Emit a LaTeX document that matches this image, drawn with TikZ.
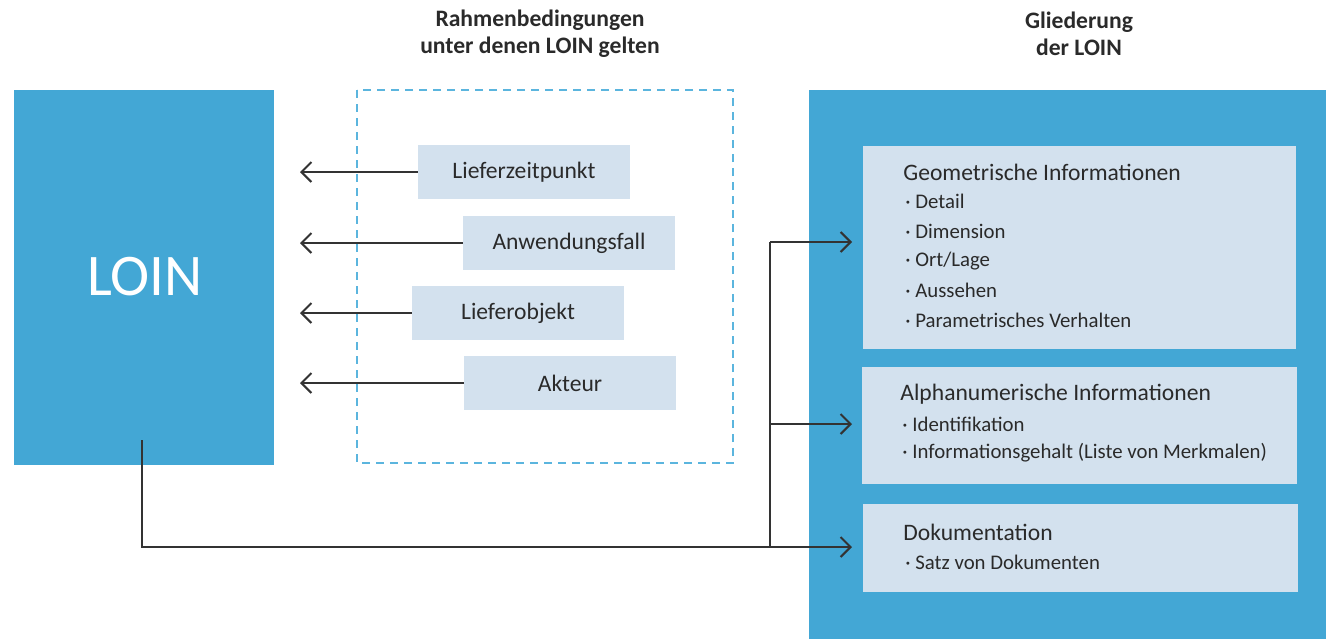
\documentclass[tikz,border=0pt]{standalone}
\usepackage{fontspec}
\setmainfont{Carlito}
\usetikzlibrary{arrows.meta}
\definecolor{loinblue}{HTML}{43A7D5}
\definecolor{dashblue}{HTML}{5BB5DE}
\definecolor{paleblue}{HTML}{D3E1EE}
\definecolor{ink}{HTML}{333333}
\definecolor{txt}{HTML}{2A2A2A}
\tikzset{
  bigbox/.style={fill=loinblue, draw=none, inner sep=0pt},
  condbox/.style={fill=paleblue, draw=none, minimum width=106pt, minimum height=27pt, inner sep=0pt, text=txt, font=\fontsize{11.8}{13}\selectfont},
  infobox/.style={fill=paleblue, draw=none, inner sep=0pt},
  head/.style={font=\bfseries\fontsize{11.8}{13.5}\selectfont, align=center, text=txt},
  ttl/.style={anchor=west, inner sep=0pt, text=txt, font=\fontsize{11.8}{13}\selectfont},
  itm/.style={anchor=west, inner sep=0pt, text=txt, font=\fontsize{10.4}{12}\selectfont},
  conn/.style={draw=ink, line width=1pt, -{Straight Barb[length=5pt,width=10pt,line width=1pt]}},
  plain/.style={draw=ink, line width=1pt},
}
\begin{document}
\begin{tikzpicture}[x=0.5pt,y=-0.5pt]
\useasboundingbox (0,0) rectangle (1326,639);
% LOIN box
\node[bigbox, minimum width=130pt, minimum height=187.5pt, anchor=north west] (loin) at (14,90) {};
\node[text=white, font=\fontsize{29.5}{32}\selectfont] (loinlbl) at (145,277) {LOIN};
% dashed frame
\draw[dashblue, line width=1pt, dash pattern=on 4pt off 3pt] (357,90) rectangle (733,463);
% headers
\node[head] (h1) at (540,34) {Rahmenbedingungen\\unter denen LOIN gelten};
\node[head] (h2) at (1079,34) {Gliederung\\der LOIN};
% condition boxes
\node[condbox] (c1) at (524,172) {Lieferzeitpunkt};
\node[condbox] (c2) at (569,243) {Anwendungsfall};
\node[condbox] (c3) at (518,313) {Lieferobjekt};
\node[condbox] (c4) at (570,383) {Akteur};
\coordinate (t1) at (300,172);
\coordinate (t2) at (300,243);
\coordinate (t3) at (300,313);
\coordinate (t4) at (300,383);
\draw[conn] (c1.west) -- (t1);
\draw[conn] (c2.west) -- (t2);
\draw[conn] (c3.west) -- (t3);
\draw[conn] (c4.west) -- (t4);
% right big box
\node[bigbox, minimum width=258.5pt, minimum height=274.5pt, anchor=north west] (glied) at (809,90) {};
% info boxes
\node[infobox, minimum width=216.5pt, minimum height=101.5pt, anchor=north west] (geo) at (863,146) {};
\node[infobox, minimum width=217.5pt, minimum height=58.5pt, anchor=north west] (alpha) at (862,367) {};
\node[infobox, minimum width=217.5pt, minimum height=44pt, anchor=north west] (doku) at (863,504) {};
% texts
\node[ttl] (g0) at (903,172) {Geometrische Informationen};
\node[itm] (g1) at (905,201) {· Detail};
\node[itm] (g2) at (905,231) {· Dimension};
\node[itm] (g3) at (905,261) {· Ort/Lage};
\node[itm] (g4) at (905,290) {· Aussehen};
\node[itm] (g5) at (905,320) {· Parametrisches Verhalten};
\node[ttl] (a0) at (900,394) {Alphanumerische Informationen};
\node[itm] (a1) at (902,424) {· Identifikation};
\node[itm] (a2) at (902,453) {· Informationsgehalt (Liste von Merkmalen)};
\node[ttl] (d0) at (903,532) {Dokumentation};
\node[itm] (d1) at (905,562) {· Satz von Dokumenten};
% connectors
\coordinate (s0) at (142,440);
\coordinate (s1) at (142,547);
\coordinate (j1) at (770,242);
\coordinate (j2) at (770,424);
\coordinate (j3) at (770,547);
\coordinate (e1) at (852,242);
\coordinate (e2) at (852,424);
\coordinate (e3) at (852,547);
\draw[plain] (s0) -- (s1) -- (j3);
\draw[plain] (j1) -- (j3);
\draw[conn] (j1) -- (e1);
\draw[conn] (j2) -- (e2);
\draw[conn] (j3) -- (e3);
\end{tikzpicture}
\end{document}
